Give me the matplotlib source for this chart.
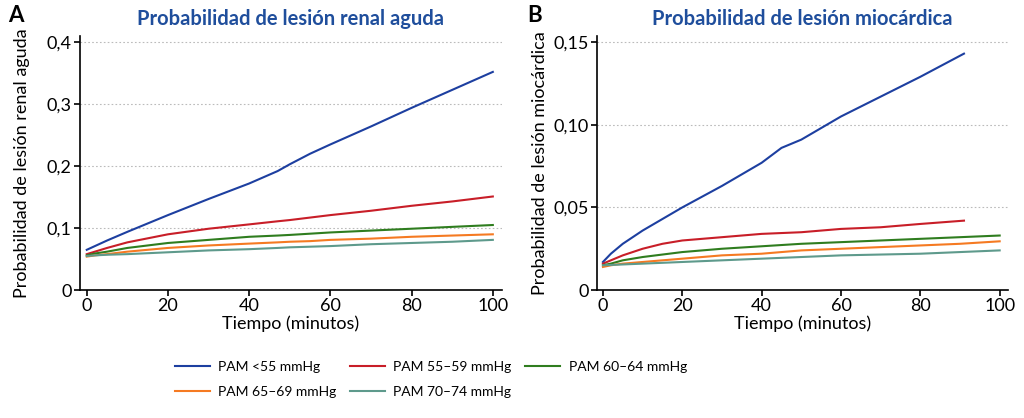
import matplotlib
matplotlib.use('Agg')
from matplotlib import pyplot as plt

plt.rcParams['font.family'] = ['Lato', 'DejaVu Sans']

series_names = ['PAM <55 mmHg', 'PAM 55–59 mmHg', 'PAM 60–64 mmHg',
                'PAM 65–69 mmHg', 'PAM 70–74 mmHg']
colors = ['#1d3fa0', '#c81e28', '#2f7d1f', '#f57a22', '#5e9a8c']

# A: renal
renal_t = [0, 2, 5, 10, 20, 30, 40, 47, 50, 55, 60, 70, 80, 90, 100]
renal_blue = [0.065, 0.071, 0.080, 0.094, 0.121, 0.147, 0.172, 0.192, 0.203, 0.220,
              0.235, 0.264, 0.294, 0.323, 0.352]
renal_red = [0.058, 0.062, 0.068, 0.077, 0.090, 0.099, 0.106, 0.111, 0.113, 0.117,
             0.121, 0.128, 0.136, 0.143, 0.151]
renal_green = [0.056, 0.059, 0.062, 0.068, 0.076, 0.081, 0.086, 0.088, 0.089, 0.091,
               0.093, 0.096, 0.099, 0.102, 0.105]
renal_orange = [0.054, 0.056, 0.058, 0.062, 0.068, 0.072, 0.075, 0.077, 0.078, 0.079,
                0.081, 0.083, 0.086, 0.088, 0.090]
renal_teal = [0.055, 0.056, 0.057, 0.058, 0.061, 0.064, 0.066, 0.068, 0.069, 0.070,
              0.071, 0.074, 0.076, 0.078, 0.081]

# B: miocardica
myo_t = [0, 2, 5, 10, 15, 20, 30, 40, 45, 50, 60, 70, 80, 91]
myo_blue = [0.017, 0.022, 0.028, 0.036, 0.043, 0.050, 0.063, 0.077, 0.086, 0.091,
            0.105, 0.117, 0.129, 0.143]
myo_red = [0.016, 0.018, 0.021, 0.025, 0.028, 0.030, 0.032, 0.034, 0.0345, 0.035,
           0.037, 0.038, 0.040, 0.042]
myo_t_long = [0, 2, 5, 10, 15, 20, 30, 40, 50, 60, 70, 80, 90, 100]
myo_green = [0.015, 0.016, 0.018, 0.020, 0.0215, 0.023, 0.025, 0.0265, 0.028, 0.029,
             0.030, 0.031, 0.032, 0.033]
myo_orange = [0.014, 0.015, 0.016, 0.017, 0.018, 0.019, 0.021, 0.022, 0.024, 0.025,
              0.026, 0.027, 0.028, 0.0295]
myo_teal = [0.015, 0.0152, 0.0155, 0.016, 0.0165, 0.017, 0.018, 0.019, 0.020, 0.021,
            0.0215, 0.022, 0.023, 0.024]

fig = plt.figure(figsize=(10.24, 4.18), dpi=100)
axA = fig.add_axes([0.078, 0.306, 0.412, 0.608])
axB = fig.add_axes([0.583, 0.306, 0.401, 0.608])

title_color = '#1f4e9c'


def style_axis(ax, yticks, ylabels, ymax, xlim, ylabel, title, lpad):
    ax.set_xlim(*xlim)
    ax.set_ylim(0, ymax)
    ax.spines['top'].set_visible(False)
    ax.spines['right'].set_visible(False)
    ax.spines['left'].set_linewidth(1.2)
    ax.spines['bottom'].set_linewidth(1.2)
    ax.set_xticks([0, 20, 40, 60, 80, 100])
    ax.set_yticks(yticks)
    ax.set_yticklabels(ylabels)
    ax.tick_params(labelsize=13, length=4, width=1.2, direction='out', pad=2)
    for y in yticks[1:]:
        ax.axhline(y, color='#bbbbbb', linestyle=(0, (1.5, 2)), linewidth=0.8, zorder=0)
    ax.set_xlabel('Tiempo (minutos)', fontsize=13, labelpad=1)
    ax.set_ylabel(ylabel, fontsize=13, labelpad=lpad)
    ax.set_title(title, fontsize=14.5, fontweight='bold', color=title_color, pad=8)


lines = []
for vals, c in zip([renal_blue, renal_red, renal_green, renal_orange, renal_teal], colors):
    ln, = axA.plot(renal_t, vals, color=c, linewidth=1.5)
    lines.append(ln)
style_axis(axA, [0, 0.1, 0.2, 0.3, 0.4], ['0', '0,1', '0,2', '0,3', '0,4'], 0.41,
           (-1.7, 102.2), 'Probabilidad de lesión renal aguda',
           'Probabilidad de lesión renal aguda', 12)

axB.plot(myo_t, myo_blue, color=colors[0], linewidth=1.5)
axB.plot(myo_t, myo_red, color=colors[1], linewidth=1.5)
axB.plot(myo_t_long, myo_green, color=colors[2], linewidth=1.5)
axB.plot(myo_t_long, myo_orange, color=colors[3], linewidth=1.5)
axB.plot(myo_t_long, myo_teal, color=colors[4], linewidth=1.5)
style_axis(axB, [0, 0.05, 0.10, 0.15], ['0', '0,05', '0,10', '0,15'], 0.1537,
           (-1.5, 102), 'Probabilidad de lesión miocárdica',
           'Probabilidad de lesión miocárdica', 4)

fig.text(0.008, 0.962, 'A', fontsize=16, fontweight='bold', va='center')
fig.text(0.515, 0.962, 'B', fontsize=16, fontweight='bold', va='center')

order = [0, 3, 1, 4, 2]
fig.legend([lines[i] for i in order], [series_names[i] for i in order],
           ncol=3, frameon=False, loc='upper left', bbox_to_anchor=(0.171, 0.136),
           borderpad=0, borderaxespad=0,
           fontsize=10, handlelength=2.5, handletextpad=0.6, columnspacing=1.0,
           labelspacing=0.9)

fig.savefig('out.png', dpi=100)
